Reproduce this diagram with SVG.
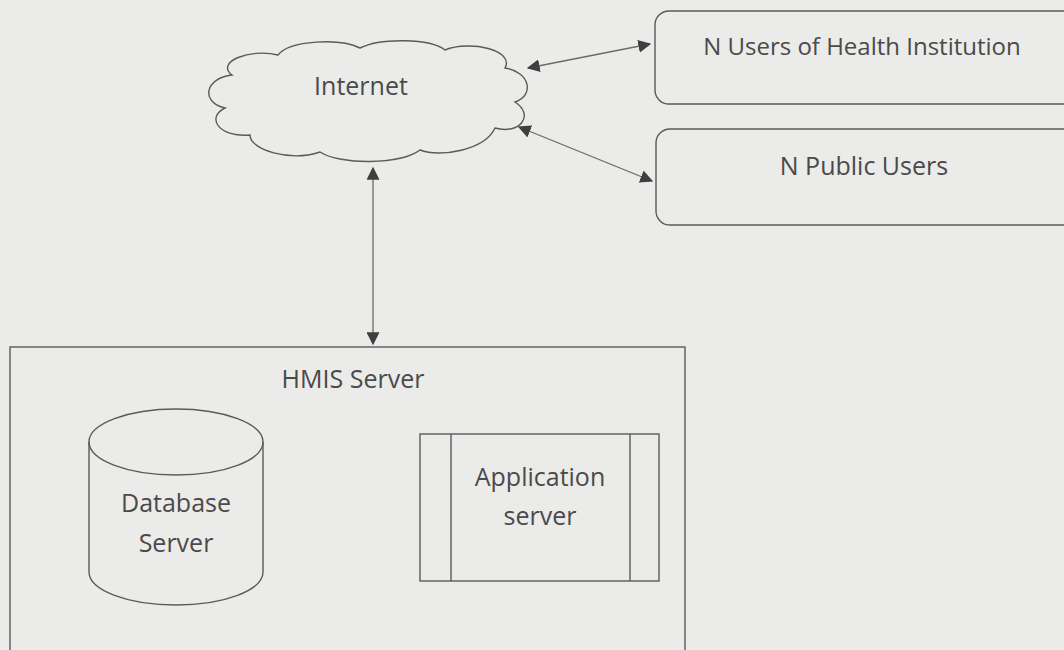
<svg xmlns="http://www.w3.org/2000/svg" width="1064" height="650" viewBox="0 0 1064 650">
<style>
.bg{fill:#ebebe9}
.shape{fill:none;stroke:#5a5a5a;stroke-width:1.4}
.conn{stroke:#6a6a6a;stroke-width:1.3;fill:none}
.t{font-family:"Open Sans","Liberation Sans",sans-serif;fill:#4a4a4a;text-anchor:middle;font-size:25px}
</style>
<defs>
<marker id="ah" viewBox="0 0 10 10" refX="9" refY="5" markerWidth="13" markerHeight="13" markerUnits="userSpaceOnUse" orient="auto-start-reverse">
<path d="M0,0 L10,5 L0,10 Z" fill="#3f3f3f"/>
</marker>
</defs>
<rect class="bg" x="0" y="0" width="1064" height="650"/>
<g id="internet">
<path class="shape" d="M232,75 C215,62 250,48 278,55 C290,40 340,38 360,48 C380,38 430,38 445,50 C470,40 515,50 505,68 C530,72 535,95 515,102 C535,115 520,135 495,128 C485,150 440,158 420,150 C400,165 340,165 320,152 C290,162 250,150 250,135 C220,138 205,118 225,108 C200,102 205,78 232,75 Z"/>
<text class="t" x="361" y="95">Internet</text>
</g>
<g id="users-health">
<rect class="shape" x="655" y="11" width="425" height="93" rx="14"/>
<text class="t" x="862" y="55" style="font-size:24px">N Users of Health Institution</text>
</g>
<g id="public-users">
<rect class="shape" x="656" y="129" width="425" height="96" rx="14"/>
<text class="t" x="864" y="175">N Public Users</text>
</g>
<g id="hmis-server">
<rect class="shape" x="10" y="347" width="675" height="320"/>
<text class="t" x="353" y="388">HMIS Server</text>
</g>
<g id="database-server">
<path class="shape" d="M89,442 L89,572 A87,33 0 0 0 263,572 L263,442"/>
<ellipse class="shape" cx="176" cy="442" rx="87" ry="33"/>
<text class="t" x="176" y="512">Database</text>
<text class="t" x="176" y="552">Server</text>
</g>
<g id="application-server">
<rect class="shape" x="420" y="434" width="239" height="147"/>
<line class="shape" x1="451" y1="434" x2="451" y2="581"/>
<line class="shape" x1="630" y1="434" x2="630" y2="581"/>
<text class="t" x="540" y="486">Application</text>
<text class="t" x="540" y="525">server</text>
</g>
<g id="connectors">
<line class="conn" x1="528" y1="68" x2="650" y2="44" marker-start="url(#ah)" marker-end="url(#ah)"/>
<line class="conn" x1="519" y1="127" x2="652" y2="181" marker-start="url(#ah)" marker-end="url(#ah)"/>
<line class="conn" x1="373" y1="168" x2="373" y2="344" marker-start="url(#ah)" marker-end="url(#ah)"/>
</g>
</svg>
